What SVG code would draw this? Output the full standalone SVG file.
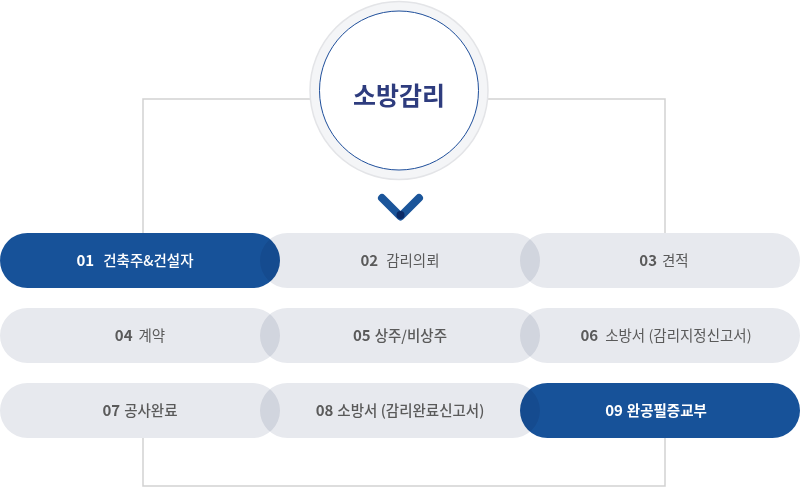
<svg xmlns="http://www.w3.org/2000/svg" width="800" height="488" viewBox="0 0 800 488">
<style>
.frame{fill:none;stroke:#d2d2d2;stroke-width:1.5}
.pill{mix-blend-mode:multiply}
.gray{fill:#e7e9ee}
.blue{fill:#175299}
.t{font-family:"Noto Sans CJK KR","Noto Sans",sans-serif;font-size:14.5px;text-anchor:middle}
.tg{fill:#5a5a5a}
.tw{fill:#ffffff}
.num{font-weight:700;font-size:15px}
</style>
<rect width="800" height="488" fill="#ffffff"/>
<g id="connectors">
<path class="frame" d="M143 233 V99 H665 V233"/>
<path class="frame" d="M143 438 V486 H665 V438"/>
</g>
<g id="hub">
<circle cx="399" cy="90.5" r="89" fill="#f4f5f7" stroke="#e3e4e7" stroke-width="1.5"/>
<circle cx="399" cy="90.5" r="79.5" fill="#ffffff" stroke="#1f4f9b" stroke-width="1"/>
<text x="399" y="105" font-family="'Noto Sans CJK KR',sans-serif" font-size="25" font-weight="700" fill="#2e3c7e" text-anchor="middle">소방감리</text>
</g>
<g id="chevron">
<path d="M382 198 L400.5 216.5 L419 198" fill="none" stroke="#1b559a" stroke-width="8" stroke-linecap="round" stroke-linejoin="round"/>
<circle cx="400.5" cy="215" r="4" fill="#0b2a66"/>
</g>
<g id="pills" style="isolation:isolate">
<g id="n01"><rect class="pill blue" x="0" y="233" width="280" height="55" rx="27.5"/></g>
<g id="n02"><rect class="pill gray" x="260" y="233" width="280" height="55" rx="27.5"/></g>
<g id="n03"><rect class="pill gray" x="520" y="233" width="280" height="55" rx="27.5"/></g>
<g id="n04"><rect class="pill gray" x="0" y="308" width="280" height="55" rx="27.5"/></g>
<g id="n05"><rect class="pill gray" x="260" y="308" width="280" height="55" rx="27.5"/></g>
<g id="n06"><rect class="pill gray" x="520" y="308" width="280" height="55" rx="27.5"/></g>
<g id="n07"><rect class="pill gray" x="0" y="383" width="280" height="55" rx="27.5"/></g>
<g id="n08"><rect class="pill gray" x="260" y="383" width="280" height="55" rx="27.5"/></g>
<g id="n09"><rect class="pill blue" x="520" y="383" width="280" height="55" rx="27.5"/></g>
</g>
<g id="labels">
<text class="t tw" x="135" y="266"><tspan class="num">01</tspan><tspan dx="9" font-weight="500">건축주&amp;건설자</tspan></text>
<text class="t tg" x="400" y="266"><tspan class="num">02</tspan><tspan dx="8">감리의뢰</tspan></text>
<text class="t tg" x="664" y="266"><tspan class="num">03</tspan><tspan dx="5">견적</tspan></text>
<text class="t tg" x="140" y="341"><tspan class="num">04</tspan><tspan dx="6">계약</tspan></text>
<text class="t tg" x="400" y="341"><tspan class="num">05</tspan><tspan dx="4" font-weight="500">상주/비상주</tspan></text>
<text class="t tg" x="666" y="341"><tspan class="num">06</tspan><tspan dx="7">소방서 (감리지정신고서)</tspan></text>
<text class="t tg" x="140" y="416"><tspan class="num">07</tspan><tspan dx="4" font-weight="500">공사완료</tspan></text>
<text class="t tg" x="400" y="416"><tspan class="num">08</tspan><tspan dx="4" font-weight="500">소방서 (감리완료신고서)</tspan></text>
<text class="t tw" x="656" y="416"><tspan class="num">09</tspan><tspan dx="4" font-weight="700">완공필증교부</tspan></text>
</g>
</svg>
